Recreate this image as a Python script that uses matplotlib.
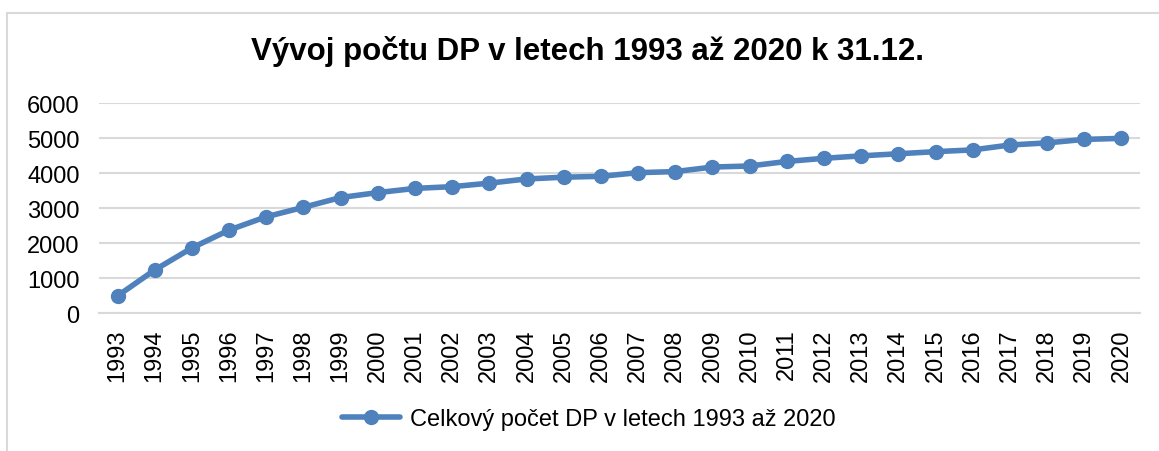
import matplotlib.pyplot as plt
from matplotlib.patches import Rectangle

plt.rcParams['font.family'] = ['Liberation Sans', 'DejaVu Sans']

years = list(range(1993, 2021))
counts = [490, 1230, 1860, 2370, 2750, 3020, 3300, 3440, 3560, 3610,
          3710, 3830, 3880, 3905, 4010, 4040, 4170, 4200, 4330, 4420,
          4490, 4550, 4610, 4660, 4800, 4860, 4960, 4990]
yticks = [0, 1000, 2000, 3000, 4000, 5000, 6000]

title = "Vývoj počtu DP v letech 1993 až 2020 k 31.12."
series_label = "Celkový počet DP v letech 1993 až 2020"
blue = "#4F81BD"
grid_gray = "#D9D9D9"

fig = plt.figure(figsize=(11.59, 4.52), dpi=100)
ax = fig.add_axes([0.0854, 0.3053, 0.8982, 0.4646])

x = list(range(len(years)))
ax.plot(x, counts, color=blue, lw=4, marker='o', markersize=10,
        solid_capstyle='round', label=series_label)

ax.set_xlim(-0.5, len(years) - 0.5)
ax.set_ylim(0, 6000)
ax.set_yticks(yticks)
ax.set_yticklabels([str(v) for v in yticks], fontsize=17)
ax.set_xticks(x)
ax.set_xticklabels([str(y) for y in years], rotation=90, fontsize=17)
ax.tick_params(axis='y', length=0, pad=14)
ax.tick_params(axis='x', length=0, pad=11)
ax.grid(axis='y', color=grid_gray, lw=1.5)
ax.set_axisbelow(True)
for s in ['top', 'right', 'left']:
    ax.spines[s].set_visible(False)
ax.spines['bottom'].set_color(grid_gray)
ax.spines['bottom'].set_linewidth(1.5)

fig.text(0.507, 0.885, title, ha='center', va='center', fontsize=22.5, fontweight='bold')

leg = fig.legend(loc='center', bbox_to_anchor=(0.508, 0.07), frameon=False,
                 fontsize=17, handlelength=2.45, handletextpad=0.42)

# outer chart border (only left and top visible in the crop)
fig.patches.append(Rectangle((7 / 1159, -0.1), 1.2, 1 - 14 / 452 + 0.1,
                             transform=fig.transFigure, fill=False,
                             edgecolor=grid_gray, lw=1.5))

fig.savefig("out.png", dpi=100)
